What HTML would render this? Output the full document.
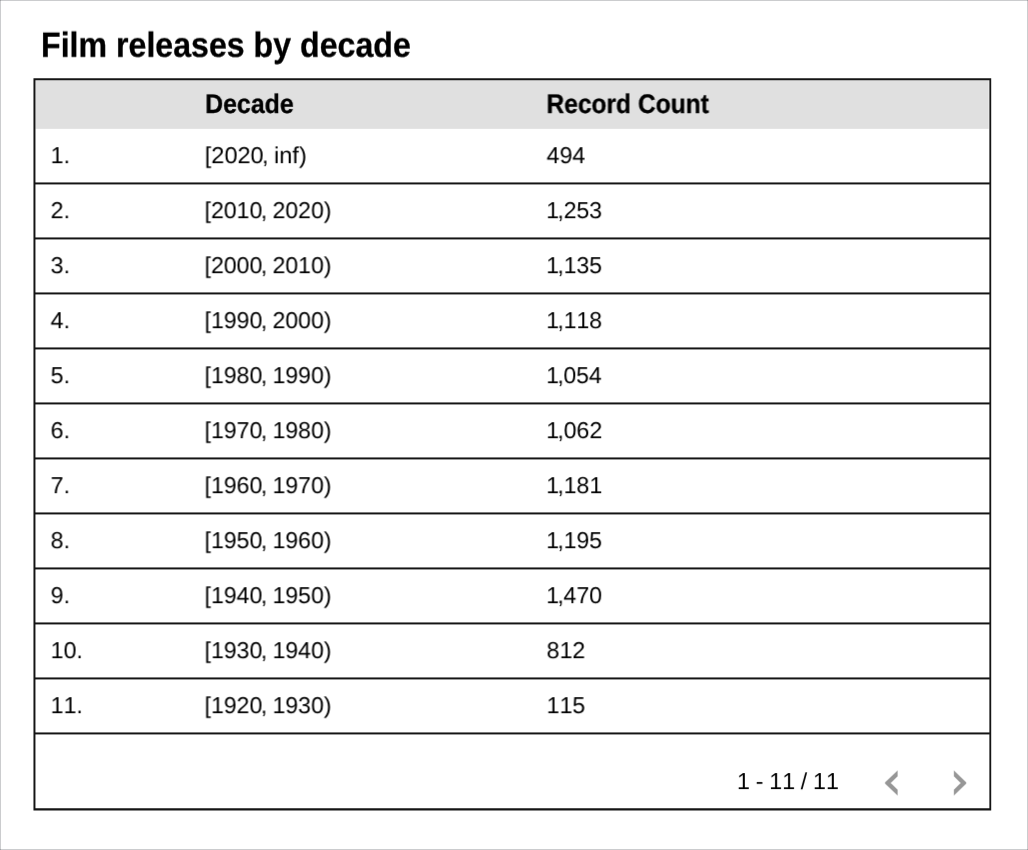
<!DOCTYPE html>
<html lang="en">
<head>
<meta charset="utf-8">
<title>Film releases by decade</title>
<style>
html,body{margin:0;padding:0;}
body{width:1028px;height:850px;background:#fff;position:relative;overflow:hidden;font-family:"Liberation Sans",sans-serif;color:#000;}
#frame{position:absolute;left:0;top:0;width:1026px;height:848px;border:1px solid #cbccce;}
#lines{position:absolute;left:0;top:0;width:1028px;height:850px;}
.t{position:absolute;white-space:nowrap;line-height:1;margin:0;padding:0;will-change:transform;text-rendering:geometricPrecision;}
.t>span{display:inline-block;transform-origin:0 0;}
.t i{font-style:normal;letter-spacing:-0.3px;margin-left:-1.6px;}
.title{font-weight:bold;font-size:34.9px;-webkit-text-stroke:0.3px #000;}
.h{font-weight:bold;font-size:26.8px;-webkit-text-stroke:0.3px #000;}
.b{font-size:23.2px;font-kerning:none;word-spacing:-0.8px;}
</style>
</head>
<body>
<div id="frame"></div>

<svg id="lines" width="1028" height="850" viewBox="0 0 1028 850">
<rect x="0" y="0" width="1" height="1" fill="#a2a3a6"/>
<rect x="1027" y="0" width="1" height="1" fill="#a2a3a6"/>
<rect x="0" y="849" width="1" height="1" fill="#a2a3a6"/>
<rect x="1027" y="849" width="1" height="1" fill="#a2a3a6"/>
<rect x="35.44" y="80.22" width="953.30" height="48.63" fill="#e0e0e0"/>
<rect x="34.94" y="182.44" width="954.94" height="1.98" fill="#141414"/>
<rect x="34.94" y="237.44" width="954.94" height="1.98" fill="#141414"/>
<rect x="34.94" y="292.44" width="954.94" height="1.98" fill="#141414"/>
<rect x="34.94" y="347.44" width="954.94" height="1.98" fill="#141414"/>
<rect x="34.94" y="402.44" width="954.94" height="1.98" fill="#141414"/>
<rect x="34.94" y="457.44" width="954.94" height="1.98" fill="#141414"/>
<rect x="34.94" y="512.44" width="954.94" height="1.98" fill="#141414"/>
<rect x="34.94" y="567.44" width="954.94" height="1.98" fill="#141414"/>
<rect x="34.94" y="622.44" width="954.94" height="1.98" fill="#141414"/>
<rect x="34.94" y="677.44" width="954.94" height="1.98" fill="#141414"/>
<rect x="34.94" y="732.44" width="954.94" height="1.98" fill="#141414"/>
<path fill-rule="evenodd" fill="#141414" d="M33.47 78.18H991.2V810.4H33.47Z M35.44 80.22V808.35H989.38V80.22Z"/>
<g fill="#979797" stroke="#979797" stroke-opacity="0.38" stroke-width="1.1" stroke-linejoin="round">
<path d="M885.3 782.5 L897.4 770.9 L897.4 776.2 L890.4 783 L897.4 789.8 L897.4 795.1 L885.3 783.5 Z"/>
<path d="M966.0 782.5 L954.1 770.9 L954.1 776.2 L961 783 L954.1 789.8 L954.1 795.1 L966.0 783.5 Z"/>
</g>
</svg>
<div class="t title" style="left:40px;top:28px;transform:translate(0.97px,0.75px) rotate(0.001deg)"><span style="transform:scaleX(0.9212)">Film releases by decade</span></div>
<div class="t h" style="left:205px;top:90px;transform:translate(0.16px,0.95px) rotate(0.001deg)"><span style="transform:scaleX(0.9290)">Decade</span></div>
<div class="t h" style="left:546px;top:90px;transform:translate(0.48px,0.95px) rotate(0.001deg)"><span style="transform:scaleX(0.9166)">Record Count</span></div>
<div class="t b" style="left:50px;top:144px;transform:translate(0.60px,0.20px) rotate(0.001deg)"><span style="transform:scaleX(1.0000)">1.</span></div>
<div class="t b" style="left:204px;top:144px;transform:translate(0.72px,0.20px) rotate(0.001deg)"><span style="transform:scaleX(1.0151)">[2020<i>,</i> inf)</span></div>
<div class="t b" style="left:546px;top:144px;transform:translate(0.60px,0.20px) rotate(0.001deg)"><span style="transform:scaleX(1.0000)">494</span></div>
<div class="t b" style="left:50px;top:199px;transform:translate(0.60px,0.20px) rotate(0.001deg)"><span style="transform:scaleX(1.0000)">2.</span></div>
<div class="t b" style="left:204px;top:199px;transform:translate(0.55px,0.20px) rotate(0.001deg)"><span style="transform:scaleX(0.9949)">[2010<i>,</i> 2020)</span></div>
<div class="t b" style="left:546px;top:199px;transform:translate(0.24px,0.20px) rotate(0.001deg)"><span style="transform:scaleX(0.9961)">1<i>,</i>253</span></div>
<div class="t b" style="left:50px;top:254px;transform:translate(0.60px,0.20px) rotate(0.001deg)"><span style="transform:scaleX(1.0000)">3.</span></div>
<div class="t b" style="left:204px;top:254px;transform:translate(0.55px,0.20px) rotate(0.001deg)"><span style="transform:scaleX(0.9949)">[2000<i>,</i> 2010)</span></div>
<div class="t b" style="left:546px;top:254px;transform:translate(0.24px,0.20px) rotate(0.001deg)"><span style="transform:scaleX(0.9954)">1<i>,</i>135</span></div>
<div class="t b" style="left:50px;top:309px;transform:translate(0.60px,0.20px) rotate(0.001deg)"><span style="transform:scaleX(1.0000)">4.</span></div>
<div class="t b" style="left:204px;top:309px;transform:translate(0.55px,0.20px) rotate(0.001deg)"><span style="transform:scaleX(0.9949)">[1990<i>,</i> 2000)</span></div>
<div class="t b" style="left:546px;top:309px;transform:translate(0.24px,0.20px) rotate(0.001deg)"><span style="transform:scaleX(0.9958)">1<i>,</i>118</span></div>
<div class="t b" style="left:50px;top:364px;transform:translate(0.60px,0.20px) rotate(0.001deg)"><span style="transform:scaleX(1.0000)">5.</span></div>
<div class="t b" style="left:204px;top:364px;transform:translate(0.55px,0.20px) rotate(0.001deg)"><span style="transform:scaleX(0.9949)">[1980<i>,</i> 1990)</span></div>
<div class="t b" style="left:546px;top:364px;transform:translate(0.25px,0.20px) rotate(0.001deg)"><span style="transform:scaleX(0.9889)">1<i>,</i>054</span></div>
<div class="t b" style="left:50px;top:419px;transform:translate(0.60px,0.20px) rotate(0.001deg)"><span style="transform:scaleX(1.0000)">6.</span></div>
<div class="t b" style="left:204px;top:419px;transform:translate(0.55px,0.20px) rotate(0.001deg)"><span style="transform:scaleX(0.9949)">[1970<i>,</i> 1980)</span></div>
<div class="t b" style="left:546px;top:419px;transform:translate(0.24px,0.20px) rotate(0.001deg)"><span style="transform:scaleX(0.9978)">1<i>,</i>062</span></div>
<div class="t b" style="left:50px;top:474px;transform:translate(0.60px,0.20px) rotate(0.001deg)"><span style="transform:scaleX(1.0000)">7.</span></div>
<div class="t b" style="left:204px;top:474px;transform:translate(0.55px,0.20px) rotate(0.001deg)"><span style="transform:scaleX(0.9949)">[1960<i>,</i> 1970)</span></div>
<div class="t b" style="left:546px;top:474px;transform:translate(0.24px,0.20px) rotate(0.001deg)"><span style="transform:scaleX(0.9975)">1<i>,</i>181</span></div>
<div class="t b" style="left:50px;top:529px;transform:translate(0.60px,0.20px) rotate(0.001deg)"><span style="transform:scaleX(1.0000)">8.</span></div>
<div class="t b" style="left:204px;top:529px;transform:translate(0.55px,0.20px) rotate(0.001deg)"><span style="transform:scaleX(0.9949)">[1950<i>,</i> 1960)</span></div>
<div class="t b" style="left:546px;top:529px;transform:translate(0.24px,0.20px) rotate(0.001deg)"><span style="transform:scaleX(0.9954)">1<i>,</i>195</span></div>
<div class="t b" style="left:50px;top:584px;transform:translate(0.60px,0.20px) rotate(0.001deg)"><span style="transform:scaleX(1.0000)">9.</span></div>
<div class="t b" style="left:204px;top:584px;transform:translate(0.55px,0.20px) rotate(0.001deg)"><span style="transform:scaleX(0.9949)">[1940<i>,</i> 1950)</span></div>
<div class="t b" style="left:546px;top:584px;transform:translate(0.25px,0.20px) rotate(0.001deg)"><span style="transform:scaleX(0.9937)">1<i>,</i>470</span></div>
<div class="t b" style="left:50px;top:639px;transform:translate(0.60px,0.20px) rotate(0.001deg)"><span style="transform:scaleX(1.0000)">10.</span></div>
<div class="t b" style="left:204px;top:639px;transform:translate(0.55px,0.20px) rotate(0.001deg)"><span style="transform:scaleX(0.9949)">[1930<i>,</i> 1940)</span></div>
<div class="t b" style="left:546px;top:639px;transform:translate(0.60px,0.20px) rotate(0.001deg)"><span style="transform:scaleX(1.0000)">812</span></div>
<div class="t b" style="left:50px;top:694px;transform:translate(0.60px,0.20px) rotate(0.001deg)"><span style="transform:scaleX(1.0000)">11.</span></div>
<div class="t b" style="left:204px;top:694px;transform:translate(0.55px,0.20px) rotate(0.001deg)"><span style="transform:scaleX(0.9949)">[1920<i>,</i> 1930)</span></div>
<div class="t b" style="left:546px;top:694px;transform:translate(0.60px,0.20px) rotate(0.001deg)"><span style="transform:scaleX(1.0000)">115</span></div>
<div class="t b" style="left:736px;top:770px;transform:translate(0.92px,0.10px) rotate(0.001deg)"><span style="transform:scaleX(1.0078)">1 - 11 / 11</span></div>
</body>
</html>
